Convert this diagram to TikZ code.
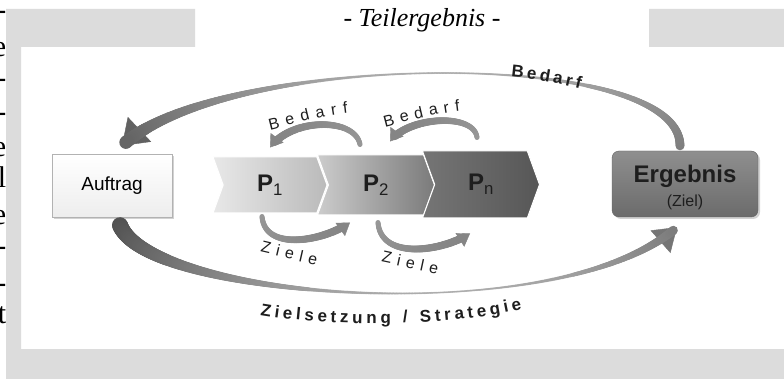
\documentclass[tikz,border=0pt]{standalone}
\usepackage{fontspec}
\setmainfont{Liberation Serif}
\setsansfont{Liberation Sans}
\usetikzlibrary{arrows.meta, shapes.symbols, shadows, backgrounds, decorations.markings, decorations.text}

\definecolor{FrameGray}{RGB}{220, 220, 220}
\definecolor{InkGray}{RGB}{30, 30, 30}

\begin{document}
\begin{tikzpicture}[x=1pt, y=-1pt,
    frag/.style={anchor=base east, inner sep=0pt, font=\fontsize{30}{30}\selectfont},
    startbox/.style={rectangle, draw=black!30, top color=white, bottom color=black!7, minimum width=120pt, minimum height=63pt, font=\sffamily\fontsize{19}{19}\selectfont, drop shadow={shadow xshift=2pt, shadow yshift=-2pt, opacity=.35}},
    goalbox/.style={rectangle, rounded corners=7pt, draw=black!62, top color=black!44, bottom color=black!58, minimum width=146pt, minimum height=66pt, align=center, text=InkGray, font=\sffamily, text height=45pt, text depth=0pt, drop shadow={shadow xshift=2pt, shadow yshift=-2pt, opacity=.35}},
    chev/.style={signal, signal to=east, signal from=west, signal pointer angle=140, draw=white, line width=1pt, inner sep=0pt, text=InkGray, font=\sffamily\bfseries\fontsize{24}{24}\selectfont},
    % #1/#2/#3: half width at start/middle/end, #4/#5: head width/length, #6: head colour
    swoosh/.style n args={6}{draw=white, line width=0.4pt, -{Triangle[width=#4pt, length=#5pt, color=black!#6]},
      postaction={decorate, decoration={markings,
        mark=between positions 0 and -0.6*#5pt step 0.8pt with {
          \pgfmathsetmacro\tp{\pgfkeysvalueof{/pgf/decoration/mark info/distance from start}/\pgfdecoratedpathlength}
          \pgfmathsetmacro\tr{#1*(1-\tp)*(1-2*\tp)+4*#2*\tp*(1-\tp)+#3*\tp*(2*\tp-1)}
          \pgfmathsetmacro\tc{28+5*\tr}
          \fill[black!\tc] (0,0) circle (\tr pt);}}}},
    curvelabel/.style 2 args={decoration={text along path, text={|#1|#2}, text align=fit to path, text color=InkGray}, decorate}
  ]
  \useasboundingbox (0,0) rectangle (784,379);
  \begin{scope}[on background layer]
    \fill[white] (0,0) rectangle (784,379);
    \fill[FrameGray] (6,9) rectangle (195,47) (649,9) rectangle (784,47)
      (6,9) rectangle (21,379) (6,349) rectangle (784,379);
  \end{scope}

  % cut-off text on the left edge
  \begin{scope}
    \clip (0,0) rectangle (6,379);
    \foreach \ch/\yy [count=\i] in {-/20, e/57, -/88, -/122, e/157, l/188, e/225, -/256, -/292, t/323}
      \node[frag] (frag\i) at (6.5,\yy) {\ch};
  \end{scope}

  \node[anchor=base, font=\itshape\fontsize{26}{26}\selectfont] (title) at (422,27) {- Teilergebnis -};

  \node[startbox] (auf) at (112,185.5) {Auftrag};
  \node[goalbox] (erg) at (685,184) {{\bfseries\fontsize{24}{24}\selectfont Ergebnis}\\[6pt]{\fontsize{16}{16}\selectfont (Ziel)}};

  \node[chev, left color=black!9, right color=black!27, minimum width=114pt, minimum height=56pt] (p1) at (270,185) {P\textsubscript{\mdseries 1}};
  \node[chev, left color=black!20, right color=black!52, minimum width=117pt, minimum height=60pt] (p2) at (376,185) {P\textsubscript{\mdseries 2}};
  \node[chev, left color=black!54, right color=black!66, minimum width=117pt, minimum height=67pt] (pn) at (481,184.5) {P\textsubscript{\mdseries n}};

  \path[swoosh={4.5}{1}{7}{34}{24}{62}] ([shift={(-5,-5)}]erg.north) .. controls +(0,-100) and +(100,-94) .. ([shift={(10,-8)}]auf.north);
  \path[swoosh={8}{1}{5}{30}{22}{54}] ([shift={(8,8)}]auf.south) .. controls +(30,75) and +(-117,103) .. ([shift={(-8,10)}]erg.south);

  \path[swoosh={2.5}{3.5}{4}{16}{12}{48}] ([shift={(-16,-10)}]p2.north) .. controls +(-5,-27) and +(22,-30) .. ([shift={(0,-9)}]p1.north);
  \path[swoosh={2.5}{3.5}{4}{16}{12}{48}] ([shift={(-4,-13)}]pn.north) .. controls +(-3,-25) and +(18,-25) .. ([shift={(14,-13)}]p2.north);
  \path[swoosh={2.5}{3.5}{4}{16}{12}{48}] ([shift={(-8,3)}]p1.south) .. controls +(3,36) and +(-25,18) .. ([shift={(-26,7)}]p2.south);
  \path[swoosh={2.5}{3.5}{4}{16}{12}{48}] ([shift={(2,7)}]p2.south) .. controls +(3,38) and +(-28,18) .. ([shift={(-11,15)}]pn.south);

  \path[curvelabel={\sffamily\bfseries\fontsize{17}{17}\selectfont}{Bedarf}] (511,77) .. controls (533,79) and (556,83) .. (580,89);
  \path[curvelabel={\sffamily\fontsize{16}{16}\selectfont}{Bedarf}] (270,130) .. controls (295,124) and (320,116) .. (348,113);
  \path[curvelabel={\sffamily\fontsize{16}{16}\selectfont}{Bedarf}] (385,127) .. controls (408,121) and (432,114) .. (460,111);
  \path[curvelabel={\sffamily\fontsize{16}{16}\selectfont}{Ziele}] (260,252) .. controls (277,256) and (297,261) .. (316,265);
  \path[curvelabel={\sffamily\fontsize{16}{16}\selectfont}{Ziele}] (381,262) .. controls (400,266) and (418,270) .. (437,274);
  \path[curvelabel={\sffamily\bfseries\fontsize{17}{17}\selectfont}{Zielsetzung / Strategie}] (260,315) .. controls (330,327) and (450,327) .. (522,309);
\end{tikzpicture}
\end{document}
